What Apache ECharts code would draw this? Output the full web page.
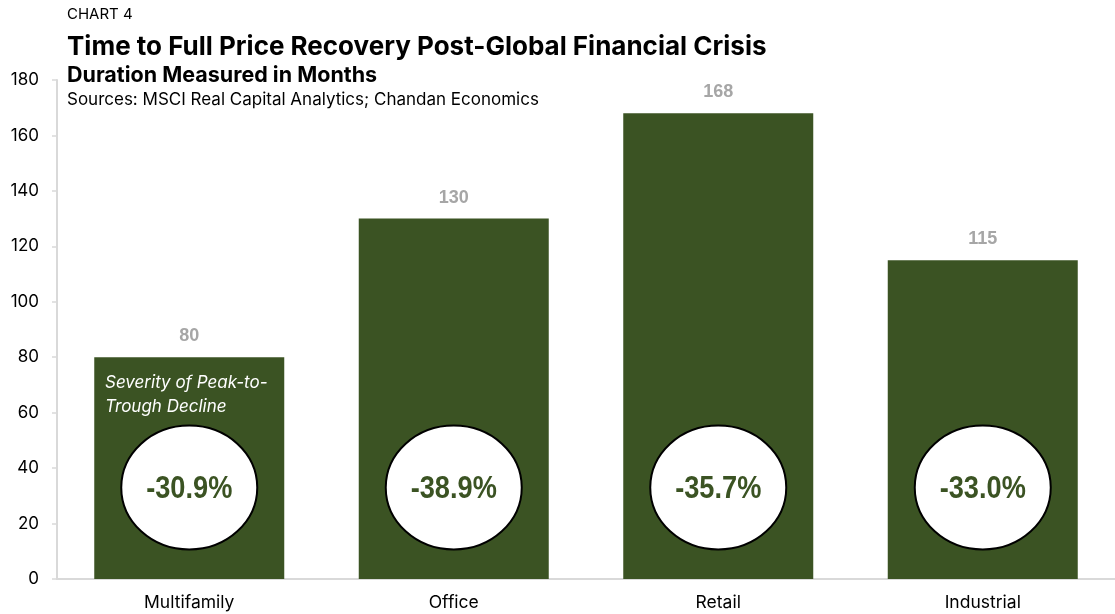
<!DOCTYPE html>
<html>
<head>
<meta charset="utf-8">
<script src="https://cdn.jsdelivr.net/npm/echarts@6/dist/echarts.min.js"></script>
<style>html,body{margin:0;padding:0;background:#fff;}#c{width:1115px;height:614px;}</style>
</head>
<body>
<div id="c"></div>
<script>
var categories = ['Multifamily', 'Office', 'Retail', 'Industrial'];
var months = [80, 130, 168, 115];
var severity = ['-30.9%', '-38.9%', '-35.7%', '-33.0%'];
var circleLevel = [33, 33, 33, 33];
var yTicks = [0, 20, 40, 60, 80, 100, 120, 140, 160, 180];

var chart = echarts.init(document.getElementById('c'), null, {renderer: 'canvas'});
var font = 'Inter, "Liberation Sans", Arial, sans-serif';
var boldFont = '"Liberation Sans", Arial, sans-serif';
var green = '#3B5323';

var circleData = categories.map(function (c, i) { return [i, circleLevel[i]]; });

chart.setOption({
  animation: false,
  backgroundColor: '#fff',
  textStyle: {fontFamily: font},
  grid: {left: 57, right: -10, top: 80, bottom: 35, containLabel: false},
  graphic: [
    {type: 'text', x: 67, y: 14, style: {text: 'CHART 4', font: '15px ' + font, fill: '#000', verticalAlign: 'middle'}},
    {type: 'text', x: 67, y: 47, style: {text: 'Time to Full Price Recovery Post-Global Financial Crisis', font: 'bold 26px ' + font, fill: '#000', verticalAlign: 'middle'}},
    {type: 'text', x: 67, y: 76, style: {text: 'Duration Measured in Months', font: 'bold 21.5px ' + font, fill: '#000', verticalAlign: 'middle'}},
    {type: 'text', x: 67, y: 100, style: {text: 'Sources: MSCI Real Capital Analytics; Chandan Economics', font: '17px ' + font, fill: '#000', verticalAlign: 'middle'}},
    {type: 'text', x: 105, y: 395, z: 10, style: {text: 'Severity of Peak-to-\nTrough Decline', font: 'italic 17px ' + font, fill: '#fff', lineHeight: 24, verticalAlign: 'middle'}}
  ],
  xAxis: {
    type: 'category',
    data: categories,
    axisLine: {show: true, lineStyle: {color: '#D9D9D9', width: 2}},
    axisTick: {show: false},
    axisLabel: {color: '#000', fontSize: 17.5, margin: 15, fontFamily: font}
  },
  yAxis: {
    type: 'value',
    min: 0, max: 180, interval: 20,
    axisLine: {show: true, lineStyle: {color: '#D9D9D9', width: 2}},
    axisTick: {show: true, length: 5, lineStyle: {color: '#D9D9D9', width: 1.5}},
    splitLine: {show: false},
    axisLabel: {color: '#000', fontSize: 17, margin: 18, fontFamily: font}
  },
  series: [
    {
      type: 'bar',
      data: months,
      barWidth: 190,
      itemStyle: {color: green},
      label: {show: true, position: 'top', distance: 12, color: '#A6A6A6', fontSize: 18, fontWeight: 'bold', fontFamily: boldFont}
    },
    {
      type: 'custom',
      data: circleData,
      z: 5,
      renderItem: function (params, api) {
        var p = api.coord([api.value(0), api.value(1)]);
        return {
          type: 'group',
          children: [
            {type: 'ellipse', shape: {cx: p[0], cy: p[1], rx: 68, ry: 62},
             style: {fill: '#fff', stroke: '#000', lineWidth: 2}},
            {type: 'text', x: p[0], y: p[1] + 2, scaleX: 0.85,
             style: {text: severity[params.dataIndex], font: 'bold 32px ' + boldFont,
                     fill: green, align: 'center', verticalAlign: 'middle'}}
          ]
        };
      }
    }
  ]
});
</script>
</body>
</html>
